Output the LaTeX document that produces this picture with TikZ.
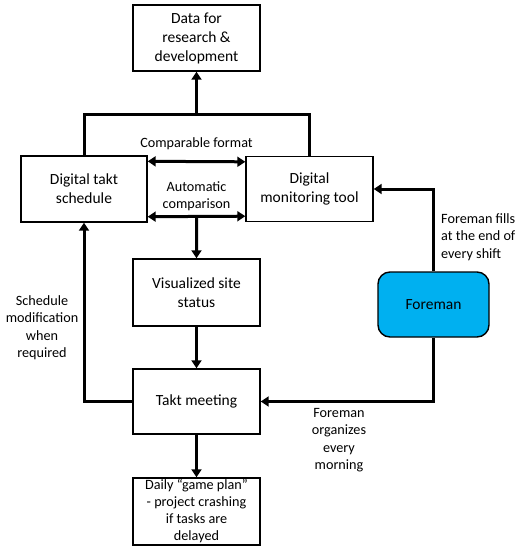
\documentclass[tikz,border=0pt]{standalone}
\usepackage{fontspec}
\setmainfont{Carlito}
\usetikzlibrary{arrows.meta,calc}
\begin{document}
\begin{tikzpicture}[x=1pt,y=-1pt,
  box/.style={draw, line width=1.4pt, align=center, inner sep=0pt,
    minimum width=127pt, font=\fontsize{15.5}{19}\selectfont},
  wire/.style={line width=3pt},
  conn/.style={wire, -{Triangle[length=8pt,width=10pt]}},
  dconn/.style={wire, {Triangle[length=8pt,width=10pt]}-{Triangle[length=8pt,width=10pt]}},
  lbl/.style={align=center, inner sep=0pt, font=\fontsize{14.2}{17.5}\selectfont}]
\useasboundingbox (0,0) rectangle (524,550);
\node[box, minimum height=66pt] (data) at (196.5,38) {Data for\\research \&\\development};
\node[box, minimum width=126pt, minimum height=66pt] (takt) at (84,189) {Digital takt\\schedule};
\node[box, minimum height=65pt] (mon) at (309.5,189) {Digital\\monitoring tool};
\node[box, minimum height=67pt] (vis) at (196.5,292.5) {Visualized site\\status};
\node[box, minimum height=65pt] (meet) at (196.5,401.5) {Takt meeting};
\node[box, minimum height=67pt, font=\fontsize{14.2}{17}\selectfont] (daily) at (196.5,511.5) {Daily ``game plan''\\- project crashing\\if tasks are\\delayed};
\node[box, minimum width=111pt, minimum height=65pt, rounded corners=12pt, fill={rgb,255:red,0;green,176;blue,240}] (fore) at (433.5,304.5) {Foreman};

\coordinate (j) at (196.5,114);
\draw[wire] (takt.north) |- (j) -| (mon.north);
\draw[conn] (j) -- (data.south);
\draw[dconn] ([yshift=-6pt]takt.north east) -- ([yshift=-6pt]mon.north west);
\draw[dconn] ([yshift=6pt]takt.south east) coordinate (ac1) -- ([yshift=6pt]mon.south west) coordinate (ac2);
\draw[conn] ($(ac1)!0.5!(ac2)$) -- (vis.north);
\draw[conn] (vis.south) -- (meet.north);
\draw[conn] (meet.south) -- (daily.north);
\draw[conn] (meet.west) -| (takt.south);
\draw[conn] (fore.south) |- (meet.east);
\draw[conn] (fore.north) |- (mon.east);

\node[lbl] (l1) at (196.5,144) {Comparable format};
\node[lbl] (l2) at (196.5,196) {Automatic\\comparison};
\node[lbl] (l3) at (42,327.5) {Schedule\\modification\\when\\required};
\node[lbl, align=left, anchor=west] (l4) at (441,237) {Foreman fills\\at the end of\\every shift};
\node[lbl] (l5) at (339,440) {Foreman\\organizes\\every\\morning};
\end{tikzpicture}
\end{document}
